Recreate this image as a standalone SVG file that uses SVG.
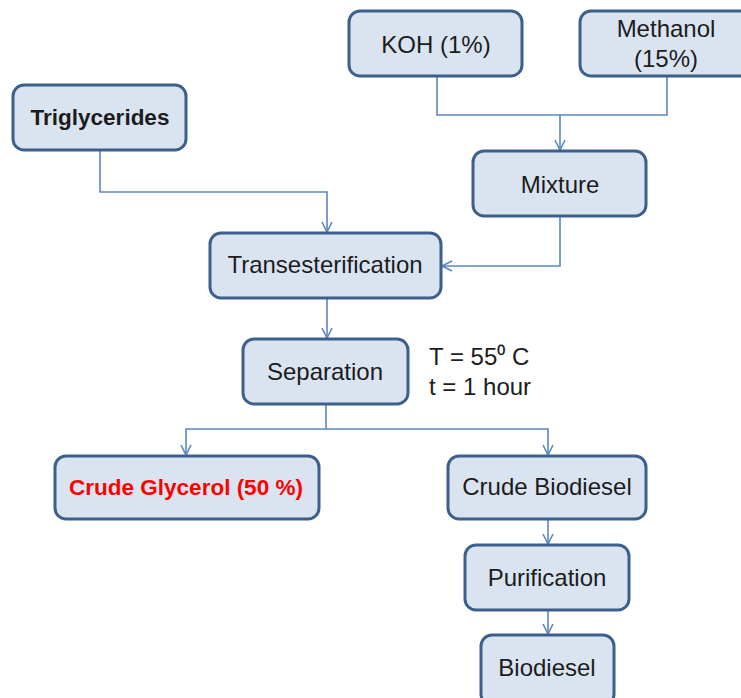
<svg xmlns="http://www.w3.org/2000/svg" width="741" height="698" viewBox="0 0 741 698">
<defs>
<style>
.box{fill:#dae4f1;stroke:#3d5f8c;stroke-width:3}
.t{font-family:"Liberation Sans",Arial,sans-serif;font-size:24px;fill:#1c1c1c;text-anchor:middle}
.b{font-weight:bold;font-size:22.5px}
.c{fill:none;stroke:#5b87c0;stroke-width:1.6}
</style>
<marker id="a" viewBox="0 0 12 12" refX="11" refY="6" markerWidth="12" markerHeight="12" markerUnits="userSpaceOnUse" orient="auto">
<path d="M1,1 L11,6 L1,11" fill="none" stroke="#5b87c0" stroke-width="1.6"/>
</marker>
</defs>
<rect width="741" height="698" fill="#fff"/>
<g id="connectors">
<path class="c" d="M437,77 V115 H667 V77"/>
<path class="c" d="M560,115 V150" marker-end="url(#a)"/>
<path class="c" d="M100,151 V192 H327 V232" marker-end="url(#a)"/>
<path class="c" d="M560,216 V266 H442" marker-end="url(#a)"/>
<path class="c" d="M327,298 V338" marker-end="url(#a)"/>
<path class="c" d="M326,405 V429"/>
<path class="c" d="M326,429 H186 V455" marker-end="url(#a)"/>
<path class="c" d="M326,429 H548 V455" marker-end="url(#a)"/>
<path class="c" d="M548,519 V544" marker-end="url(#a)"/>
<path class="c" d="M548,610 V634" marker-end="url(#a)"/>
</g>
<g id="koh"><rect class="box" x="349" y="11" width="173" height="65" rx="11"/><text class="t" x="436" y="53">KOH (1%)</text></g>
<g id="methanol"><rect class="box" x="580" y="11" width="173" height="65" rx="11"/><text class="t" x="666" y="37">Methanol</text><text class="t" x="666" y="67">(15%)</text></g>
<g id="triglycerides"><rect class="box" x="13" y="85" width="173" height="65" rx="11"/><text class="t b" x="100" y="125">Triglycerides</text></g>
<g id="mixture"><rect class="box" x="473" y="151" width="173" height="65" rx="11"/><text class="t" x="560" y="193">Mixture</text></g>
<g id="transesterification"><rect class="box" x="210" y="233" width="231" height="65" rx="11"/><text class="t" x="325" y="273">Transesterification</text></g>
<g id="separation"><rect class="box" x="243" y="339" width="165" height="65" rx="11"/><text class="t" x="325" y="380">Separation</text></g>
<g id="conditions"><text class="t" x="429" y="365" style="text-anchor:start">T = 55⁰ C</text><text class="t" x="429" y="395" style="text-anchor:start">t = 1 hour</text></g>
<g id="glycerol"><rect class="box" x="55" y="456" width="264" height="63" rx="11"/><text class="t b" x="186" y="495" style="fill:#ff0000">Crude Glycerol (50 %)</text></g>
<g id="crude-biodiesel"><rect class="box" x="448" y="456" width="198" height="63" rx="11"/><text class="t" x="547" y="495">Crude Biodiesel</text></g>
<g id="purification"><rect class="box" x="465" y="545" width="164" height="65" rx="11"/><text class="t" x="547" y="586">Purification</text></g>
<g id="biodiesel"><rect class="box" x="481" y="635" width="133" height="70" rx="11"/><text class="t" x="547" y="676">Biodiesel</text></g>
</svg>
